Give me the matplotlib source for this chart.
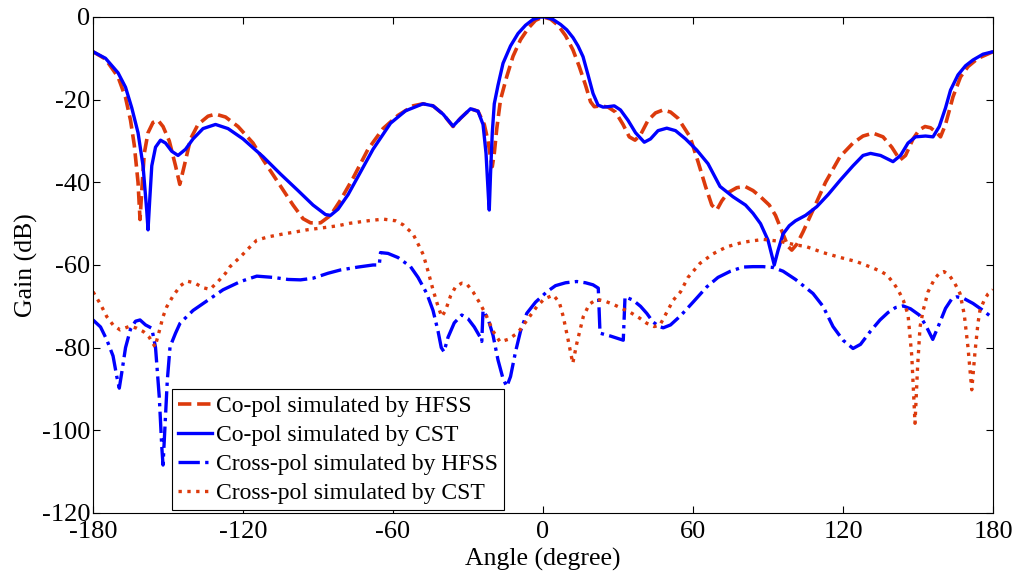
import numpy as np
import matplotlib
matplotlib.use('Agg')
import matplotlib.pyplot as plt

plt.rcParams['font.family'] = ['Liberation Serif', 'DejaVu Serif']
plt.rcParams['axes.unicode_minus'] = False

# Co-pol, CST (синяя сплошная)
ang_co_cst = [-180, -175, -170, -167, -164.5, -162, -160, -158.5, -158, -157.3, -156.5, -155, -153, -151,
              -148.5, -146, -143, -140, -136, -131, -126, -120, -112, -105, -98, -92, -87, -85, -82, -78,
              -74, -68, -61, -55, -48, -44, -40, -36, -33, -29, -26, -24, -22.8, -21.8, -21.5, -21, -20.3,
              -19.5, -18, -16, -13, -10, -7, -4, -1, 1, 4, 7, 9.5, 12, 14, 16, 18, 20, 22, 24, 26, 28.5, 31,
              34, 37, 40.5, 43, 46, 49.5, 53, 57, 61.5, 66, 70.8, 76, 81, 84, 87, 90, 92.5, 94, 96, 98.5,
              101, 105, 109.5, 114, 119, 124, 128, 131, 135, 140, 143, 146, 149, 153, 156, 158.5, 161, 163,
              166, 169, 172, 176, 180]
gain_co_cst = [-8.4, -10, -13.5, -17, -22, -28, -36, -47, -51.5, -44, -36, -31.5, -29.8, -30.5,
               -32.5, -33.5, -32, -29.5, -27, -26, -27, -29.5, -33.8, -38, -42, -45.5, -47.8, -48, -46.5, -43,
               -38.6, -32, -25.7, -22.7, -21, -21.5, -23.5, -26.4, -24.5, -22.2, -22.8, -26, -33, -44, -46.7, -38, -28,
               -21, -16.5, -11.2, -7, -4, -2, -0.6, 0, 0, -0.6, -1.8, -3.1, -5, -7, -9.6, -14, -18.5, -21.3, -21.8, -21.7, -21.5, -22.5,
               -25, -28, -30.3, -29.5, -27.5, -26.9, -27.5, -29.5, -32.2, -35.5, -41, -43.5, -45.5, -47.5, -50, -54, -60, -56.5, -52.5, -50.5,
               -49.3, -48, -45.9, -43, -39.4, -36, -33.5, -33, -33.5, -35, -33.5, -30.5, -29, -28.8, -29, -26.5, -22, -17.7,
               -14, -11.8, -10.4, -9, -8.4]

# Co-pol, HFSS (красная штриховая)
ang_co_hfss = [-180, -175, -170, -167, -165, -163.5, -162, -161.2, -160.5, -159.5, -158, -156, -154, -152,
               -149.5, -147, -145.3, -143.5, -141, -138, -134, -131, -127, -122, -116, -112, -106, -100, -96,
               -93, -89, -85, -81, -76, -70, -64, -58, -52, -48, -44, -40, -36, -33, -29, -26, -23.5, -22, -21,
               -20.3, -19.5, -18.5, -17, -14.5, -12, -9, -6, -3, 0, 3, 6, 9, 12, 14.5, 17, 19, 20.5, 23, 26, 29,
               32, 34.5, 36.8, 39, 42, 45, 48, 51, 54, 58.8, 62, 65, 67.5, 69.5, 71.5, 74, 77.5, 80.8, 84, 87,
               90.5, 93, 96, 98, 99.5, 101.5, 104, 108, 113, 118.8, 124, 128, 132, 136, 139.5, 142.8, 145, 148,
               150.5, 152.8, 155, 157.5, 159, 161, 164, 167, 170, 174, 180]
gain_co_hfss = [-8.4, -10.2, -14.5, -19.5, -25, -31, -40, -49, -42, -33, -28, -25.5, -25, -26.5,
                -30, -36, -40.5, -36, -29.5, -26, -24, -23.5, -24.2, -26.5, -30.5, -34.5, -40, -45.5, -48.8,
                -49.8, -49.8, -48, -44.3, -39, -32, -27, -23.8, -21.5, -21, -21.5, -23.5, -26.5, -24.5, -22.2, -22.8, -26, -30, -34,
                -36.2, -33, -27, -20, -14.4, -9.5, -5.5, -2.8, -0.8, 0, -0.5, -2, -4.5, -8, -12, -16.5, -20.5, -21.7, -21.5, -21.8, -23,
                -26, -29, -29.8, -28.5, -25, -23.2, -22.5, -23, -24.5, -29, -35, -41, -45.5, -46.7, -44.5, -42.5, -41.3, -41, -42, -43.5,
                -45.5, -48, -52.5, -55.5, -56.4, -55, -52, -46.7, -40, -33.8, -30.5, -28.8, -28.1, -29, -31.5, -34.6, -33.5, -29.5,
                -27.3, -26.5, -26.8, -28, -29, -26, -19.3, -14.5, -12, -10, -8.4]

# Cross-pol, HFSS (синяя штрихпунктирная)
ang_x_hfss = [-180, -177, -174.5, -172, -170.5, -169.5, -168.5, -167, -165, -163, -161.2, -159, -156.5, -155,
              -153.5, -152.5, -152, -151.3, -150.3, -149.2, -147, -145.2, -140, -134, -128, -121, -114.5, -108,
              -102, -97, -92, -86, -81, -74, -68, -65.5, -65, -62, -58, -53, -50, -46.5, -44, -42, -40.7, -39.6,
              -38, -35.5, -32.5, -30, -27.5, -25.2, -24.5, -24, -22, -20, -18, -16, -14.5, -13, -11, -9, -6.5,
              -3, 1.5, 5, 9, 13.5, 17, 20, 22.1, 22.8, 27, 32.1, 32.8, 36, 39, 41.5, 44, 46.5, 48.1, 51, 55, 60,
              65.5, 70, 75, 80, 84, 88, 92, 96, 101, 108, 112, 116, 120, 124, 127, 131, 134.8, 138, 141, 144,
              147, 150.5, 153, 155.9, 158, 161, 163.5, 165.5, 168, 172, 176, 180]
gain_x_hfss = [-73.3, -75, -78.1, -82, -87, -89.8, -86, -80, -75.5, -73.6, -73.3, -74.5, -75.3, -80,
               -92, -104, -108.4, -100, -88, -79.8, -76.5, -74.1, -71, -68.5, -66, -64, -62.7, -63,
               -63.5, -63.6, -63.2, -62, -61.2, -60.5, -60, -60, -57, -57.2, -58.2, -60.4, -63, -66.9, -71, -76, -80, -81,
               -77.5, -74, -72.1, -73, -75, -77.4, -78.5, -71, -73, -77, -83, -87.5, -89.4, -87, -81, -76, -71.7,
               -69, -66.5, -65, -64.3, -64, -64.3, -64.8, -65.6, -76.5, -77.2, -78.2, -67.7, -68.5, -70, -71.7, -73.8, -74.9, -75.2, -74.5, -72.3, -69,
               -65.3, -63, -61.5, -60.5, -60.4, -60.4, -60.6, -61.5, -63.5, -66.9, -70, -74.9, -78.2, -80.2, -79.2, -76, -73.3, -71.5, -70.3, -69.9,
               -70.6, -72.1, -74.5, -78, -75, -70.5, -68.2, -67.7, -68, -69.3, -71, -72.9]

# Cross-pol, CST (красная точечная)
ang_x_cst = [-180, -177, -174.5, -172, -169.2, -167, -165.2, -162.5, -159.9, -157.5, -155.2, -153.5, -152,
             -150.5, -148, -145, -142.5, -139.5, -136, -133.2, -130, -127, -125.2, -121, -117, -114.5, -110,
             -104, -99, -94.5, -88, -82, -77.2, -70, -63.9, -59, -55.9, -52, -49.5, -47.9, -46, -44, -42, -40.5,
             -39, -37, -35, -32.5, -30.5, -28, -25, -22.5, -20, -17.2, -14, -11, -9.2, -6, -2.5, 0.5, 4.1, 6.5,
             8.1, 10, 11.9, 13.5, 16.1, 18.5, 21.5, 25, 28, 30.8, 35, 38.5, 41.5, 44.5, 46.8, 49, 52.1, 55, 58,
             62.8, 68, 73.5, 80, 88.1, 95, 100, 105.5, 112, 119, 125.5, 131, 135, 137.5, 140, 142, 144.1, 146,
             147.5, 148.8, 149.8, 150.8, 152.1, 154, 156.5, 158.5, 160.4, 162.5, 164.5, 166.8, 168.5, 170, 171.5,
             172.8, 174, 174.8, 176.5, 178, 180]
gain_x_cst = [-66.5, -69.5, -72.5, -74.5, -75.7, -75.2, -74.8, -75.3, -76.1, -77.5, -79.8, -76, -72.5,
              -70.1, -67.5, -65, -63.9, -64.3, -65.5, -65.9, -64, -62, -60.4, -58, -55.5, -54, -53.2,
              -52.5, -52, -51.5, -51, -50.5, -49.9, -49.3, -48.9, -49.3, -50.3, -52.5, -55.5, -57.5, -61.5, -66, -70, -72.5,
              -71, -67.5, -65.3, -64.4, -64.6, -66.5, -69.5, -72.5, -76, -78.6, -78, -76.8, -75.7, -73, -70.1, -68.2, -67.3, -69,
              -72.5, -78, -83.8, -79, -72.5, -69.5, -68.3, -68.8, -69.5, -70.3, -71.5, -72.8, -74.1, -74.9, -74.5, -72, -68.5, -66.5, -63,
              -59.6, -57.3, -55.6, -54.5, -53.8, -54.3, -55, -55.6, -57, -58.2, -59.2, -60.5, -61.5, -62.4, -64.2, -66, -68.5, -72,
              -82, -98.3, -85, -75, -70.9, -66.5, -63.5, -62, -61.6, -62.5, -64.2, -66.9, -72, -80, -90.2,
              -81, -74, -70.9, -68.5, -67, -66]

red = '#DC3A0C'
blue = '#0000FF'

fig = plt.figure(figsize=(10.19, 5.74), dpi=100)
ax = fig.add_axes([0.0913, 0.1063, 0.8832, 0.8641])

ax.plot(ang_co_hfss, gain_co_hfss, color=red, linestyle='--', linewidth=2.6, label='Co-pol simulated by HFSS')
ax.plot(ang_co_cst, gain_co_cst, color=blue, linestyle='-', linewidth=2.4, label='Co-pol simulated by CST')
ax.plot(ang_x_hfss, gain_x_hfss, color=blue, linestyle='-.', linewidth=2.4, label='Cross-pol simulated by HFSS')
ax.plot(ang_x_cst, gain_x_cst, color=red, linestyle=':', linewidth=2.4, label='Cross-pol simulated by CST')

ax.set_xlim(-180, 180)
ax.set_ylim(-120, 0)
ax.set_xticks(np.arange(-180, 181, 60))
ax.set_yticks(np.arange(-120, 1, 20))
ax.tick_params(direction='in', top=True, right=True, length=5, width=0.8, labelsize=19)
ax.tick_params(axis='x', pad=6)
ax.tick_params(axis='y', pad=2)
for s in ax.spines.values():
    s.set_linewidth(0.8)

ax.set_xlabel('Angle (degree)', fontsize=18.5, labelpad=3)
ax.set_ylabel('Gain (dB)', fontsize=18.5, labelpad=3)

leg = ax.legend(loc='lower left', bbox_to_anchor=(0.088, 0.006), borderaxespad=0, fontsize=17,
                handlelength=1.45, handletextpad=0.15, labelspacing=0.32, borderpad=0.25,
                fancybox=False, framealpha=1, edgecolor='black')
leg.get_frame().set_linewidth(0.8)

fig.savefig('out.png', dpi=100)
